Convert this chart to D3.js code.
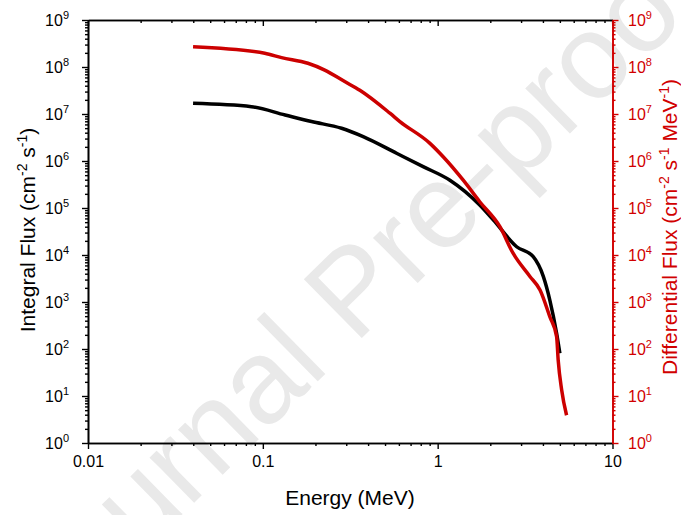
<!DOCTYPE html>
<html>
<head>
<meta charset="utf-8">
<script src="https://cdn.jsdelivr.net/npm/d3@7"></script>
<style>
  html, body { margin: 0; padding: 0; background: #fff; }
  svg { display: block; font-family: "Liberation Sans", Arial, sans-serif; }
</style>
</head>
<body>
<div id="grafico"></div>
<script>
// Values
const integralEnergy = [0.0399, 0.0861, 0.134, 0.190, 0.282, 0.375, 0.582, 0.826, 1.175, 1.74, 2.08, 2.83, 3.52, 4.02, 4.38, 4.79, 5.0];
const integralFlux = [1.69e7, 1.43e7, 9.5e6, 6.9e6, 4.97e6, 3.3e6, 1.46e6, 7.6e5, 3.9e5, 1.16e5, 5.6e4, 1.5e4, 9.2e3, 3.5e3, 1.1e3, 216, 81];

const diffEnergy = [0.0399, 0.1026, 0.128, 0.181, 0.226, 0.294, 0.359, 0.533, 0.608, 0.90, 1.075, 1.40, 1.74, 2.27, 2.70, 3.37, 3.85, 4.38, 4.79, 4.89, 5.12, 5.46];
const diffFlux = [2.7e8, 1.96e8, 1.58e8, 1.2e8, 8.6e7, 4.9e7, 3.2e7, 1.04e7, 6.9e6, 2.4e6, 1.23e6, 3.9e5, 1.36e5, 4.0e4, 1.09e4, 3.5e3, 1.8e3, 486, 183, 58, 13.4, 3.9];

const xTicks = [0.01, 0.1, 1, 10];
const xTickLabels = ["0.01", "0.1", "1", "10"];
const yTicks = [1, 1e1, 1e2, 1e3, 1e4, 1e5, 1e6, 1e7, 1e8, 1e9];

const width = 681;
const height = 515;
const marginTop = 20;
const marginRight = 68.5;
const marginBottom = 72;
const marginLeft = 88;
const red = "#d10000";

const x = d3.scaleLog().domain([0.01, 10]).range([marginLeft, width - marginRight]);
const y = d3.scaleLog().domain([1, 1e9]).range([height - marginBottom, marginTop]);

// minor ticks 2..9 in each decade
const minorX = [];
for (let d = 0.01; d < 10; d *= 10) for (let k = 2; k < 10; k++) minorX.push(+(d * k).toPrecision(3));
const minorY = [];
for (let d = 1; d < 1e9; d *= 10) for (let k = 2; k < 10; k++) minorY.push(d * k);

const svg = d3.select("#grafico")
  .append("svg")
  .attr("width", width)
  .attr("height", height)
  .attr("viewBox", [0, 0, width, height]);

// watermark
svg.append("text")
  .attr("transform", "translate(359,297) rotate(-44.5)")
  .attr("text-anchor", "middle")
  .attr("dy", "0.26em")
  .attr("font-size", 120)
  .attr("fill", "#e9e9e9")
  .text("Journal Pre-proof");

// curves
const line = d3.line()
  .x((d) => x(d[0]))
  .y((d) => y(d[1]))
  .curve(d3.curveMonotoneX);

svg.append("path")
  .datum(integralEnergy.map((e, i) => [e, integralFlux[i]]))
  .attr("fill", "none")
  .attr("stroke", "#000")
  .attr("stroke-width", 3.5)
  .attr("stroke-linejoin", "round")
  .attr("d", line);

svg.append("path")
  .datum(diffEnergy.map((e, i) => [e, diffFlux[i]]))
  .attr("fill", "none")
  .attr("stroke", "#cc0000")
  .attr("stroke-width", 3.5)
  .attr("stroke-linejoin", "round")
  .attr("d", line);

// axes
function styleAxis(g, color) {
  g.select(".domain").attr("stroke", color).attr("stroke-width", 1.6);
  g.selectAll(".tick line").attr("stroke", color).attr("stroke-width", 1.4);
  g.selectAll(".tick text").remove();
}

const bottom = height - marginBottom;
const right = width - marginRight;

svg.append("g").attr("transform", `translate(0,${bottom})`)
  .call(d3.axisBottom(x).tickValues(minorX).tickSize(3).tickSizeOuter(0))
  .call(styleAxis, "#000");
svg.append("g").attr("transform", `translate(0,${bottom})`)
  .call(d3.axisBottom(x).tickValues(xTicks).tickSize(6).tickSizeOuter(0))
  .call((g) => {
    g.select(".domain").attr("stroke", "#000").attr("stroke-width", 1.6);
    g.selectAll(".tick line").attr("stroke", "#000").attr("stroke-width", 1.4);
    g.selectAll(".tick text")
      .attr("y", 13)
      .attr("font-size", 16)
      .attr("font-family", "Liberation Sans, Arial, sans-serif")
      .attr("fill", "#000")
      .text((d, i) => xTickLabels[i]);
  });

svg.append("g").attr("transform", `translate(0,${marginTop})`)
  .call(d3.axisTop(x).tickValues(minorX).tickSize(-3).tickSizeOuter(0))
  .call(styleAxis, "#000");
svg.append("g").attr("transform", `translate(0,${marginTop})`)
  .call(d3.axisTop(x).tickValues(xTicks).tickSize(-6).tickSizeOuter(0))
  .call(styleAxis, "#000");

svg.append("g").attr("transform", `translate(${marginLeft},0)`)
  .call(d3.axisLeft(y).tickValues(minorY).tickSize(3).tickSizeOuter(0))
  .call(styleAxis, "#000");
svg.append("g").attr("transform", `translate(${marginLeft},0)`)
  .call(d3.axisLeft(y).tickValues(yTicks).tickSize(6).tickSizeOuter(0))
  .call(styleAxis, "#000");

svg.append("g").attr("transform", `translate(${right},0)`)
  .call(d3.axisRight(y).tickValues(minorY).tickSize(3).tickSizeOuter(0))
  .call(styleAxis, red);
svg.append("g").attr("transform", `translate(${right},0)`)
  .call(d3.axisRight(y).tickValues(yTicks).tickSize(6).tickSizeOuter(0))
  .call(styleAxis, red);

// power-of-ten labels
function powLabel(sel, xPos, anchor, color) {
  sel.selectAll(null)
    .data(yTicks)
    .join("text")
    .attr("x", xPos)
    .attr("y", (d) => y(d))
    .attr("dy", "0.36em")
    .attr("text-anchor", anchor)
    .attr("font-size", 16)
    .attr("fill", color)
    .each(function (d) {
      const t = d3.select(this);
      t.append("tspan").text("10");
      t.append("tspan")
        .attr("font-size", 11)
        .attr("dy", -7)
        .text(Math.round(Math.log10(d)));
    });
}
powLabel(svg.append("g"), 69, "end", "#000");
powLabel(svg.append("g"), 628, "start", red);

// titles
svg.append("text")
  .attr("x", 350)
  .attr("y", 505)
  .attr("text-anchor", "middle")
  .attr("font-size", 21)
  .text("Energy (MeV)");

// parts: [text, isSuperscript]
function supTitle(g, parts) {
  let raised = false;
  parts.forEach(([txt, sup]) => {
    const ts = g.append("tspan").text(txt);
    if (sup) {
      ts.attr("font-size", 14).attr("dy", -8);
      raised = true;
    } else if (raised) {
      ts.attr("dy", 8);
      raised = false;
    }
  });
}

const leftTitle = svg.append("text")
  .attr("transform", "translate(35,230) rotate(-90)")
  .attr("text-anchor", "middle")
  .attr("font-size", 21)
  .attr("fill", "#000");
supTitle(leftTitle, [["Integral Flux (cm"], ["-2", true], [" s"], ["-1", true], [")"]]);

const rightTitle = svg.append("text")
  .attr("transform", "translate(677,227) rotate(-90)")
  .attr("text-anchor", "middle")
  .attr("font-size", 21)
  .attr("fill", red);
supTitle(rightTitle, [["Differential Flux (cm"], ["-2", true], [" s"], ["-1", true], [" MeV"], ["-1", true], [")"]]);
</script>
</body>
</html>
